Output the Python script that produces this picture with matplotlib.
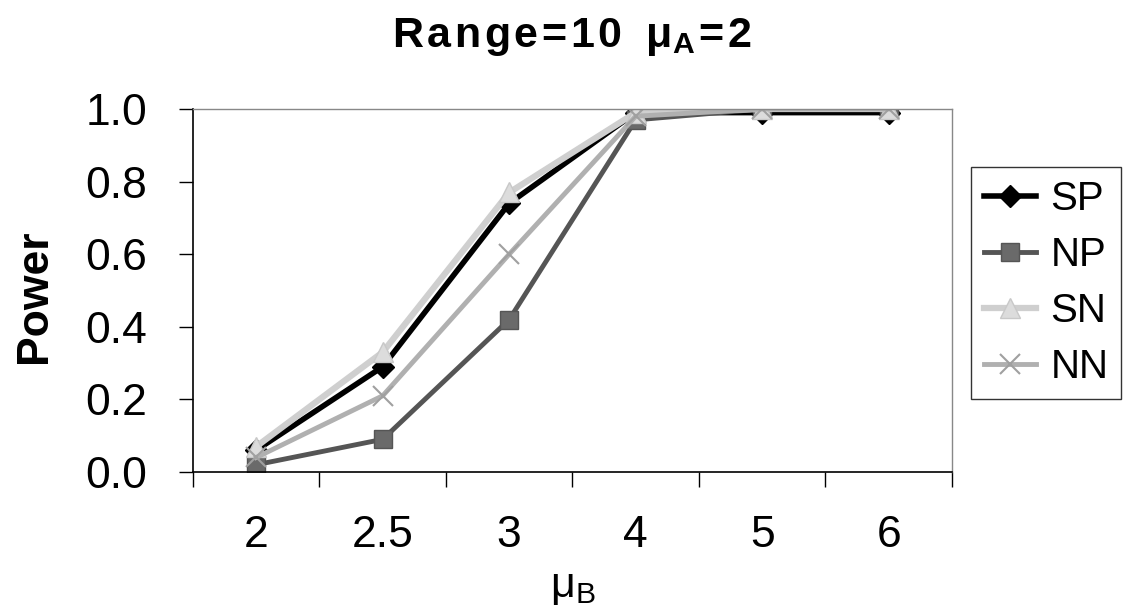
import matplotlib
matplotlib.use("Agg")
import matplotlib.pyplot as plt

plt.rcParams['font.family'] = ['Liberation Sans', 'DejaVu Sans']
plt.rcParams['mathtext.default'] = 'regular'

categories = ["2", "2.5", "3", "4", "5", "6"]
sp = [0.06, 0.29, 0.74, 0.99, 0.99, 0.99]
np_ = [0.02, 0.09, 0.42, 0.97, 1.00, 1.00]
sn = [0.07, 0.33, 0.77, 0.99, 1.00, 1.00]
nn = [0.04, 0.21, 0.60, 0.98, 1.00, 1.00]

fig = plt.figure(figsize=(11.39, 6.13), dpi=100)
ax = fig.add_axes([0.1694, 0.230, 0.6664, 0.5922])

x = list(range(len(categories)))
ax.plot(x, sp, color='black', lw=4, marker='D', ms=11, mfc='black', mec='black', label='SP')
ax.plot(x, np_, color='#555555', lw=3.5, marker='s', ms=13, mfc='#6a6a6a', mec='#555555', label='NP')
ax.plot(x, sn, color='#cfcfcf', lw=4.5, marker='^', ms=14, mfc='#dcdcdc', mec='#c8c8c8', label='SN')
ax.plot(x, nn, color='#b0b0b0', lw=3.5, marker='x', ms=14, mew=1.5, mec='#a0a0a0', label='NN')

ax.set_xlim(-0.5, len(categories) - 0.5)
ax.set_ylim(0, 1.0)
ax.set_xticks(x)
ax.set_xticklabels(categories, fontsize=32)
ax.set_xticks([i - 0.5 for i in range(len(categories) + 1)], minor=True)
ax.tick_params(axis='x', which='major', length=0, pad=31)
ax.tick_params(axis='x', which='minor', length=11, width=1, direction='out')
ax.set_yticks([0, 0.2, 0.4, 0.6, 0.8, 1.0])
ax.set_yticklabels(["0.0", "0.2", "0.4", "0.6", "0.8", "1.0"], fontsize=32)
ax.tick_params(axis='y', length=10, width=1, direction='out', pad=23)

for side in ['top', 'right']:
    ax.spines[side].set_color('#888888')
    ax.spines[side].set_linewidth(1)
for side in ['left', 'bottom']:
    ax.spines[side].set_color('black')
    ax.spines[side].set_linewidth(1.2)

ax.set_ylabel("Power", fontsize=32, fontweight='bold')
ax.yaxis.set_label_coords(-0.182, 0.484)
ax.set_xlabel("μ$_B$", fontsize=31)
ax.xaxis.set_label_coords(0.5, -0.262)

hs = "\u200a"
title = hs.join("Range=10") + "  μ$_A$" + hs + "=" + hs + "2"
fig.text(0.5018, 1 - 47 / 613, title, fontsize=31, fontweight='bold',
         ha='center', va='baseline')

leg = ax.legend(loc='upper left', bbox_to_anchor=(1.025, 0.84), fontsize=29,
                frameon=True, fancybox=False, edgecolor='black', handlelength=1.3,
                handletextpad=0.35, borderpad=0.32, labelspacing=0.45, borderaxespad=0)
leg.get_frame().set_linewidth(1)

fig.savefig("out.png", dpi=100)
